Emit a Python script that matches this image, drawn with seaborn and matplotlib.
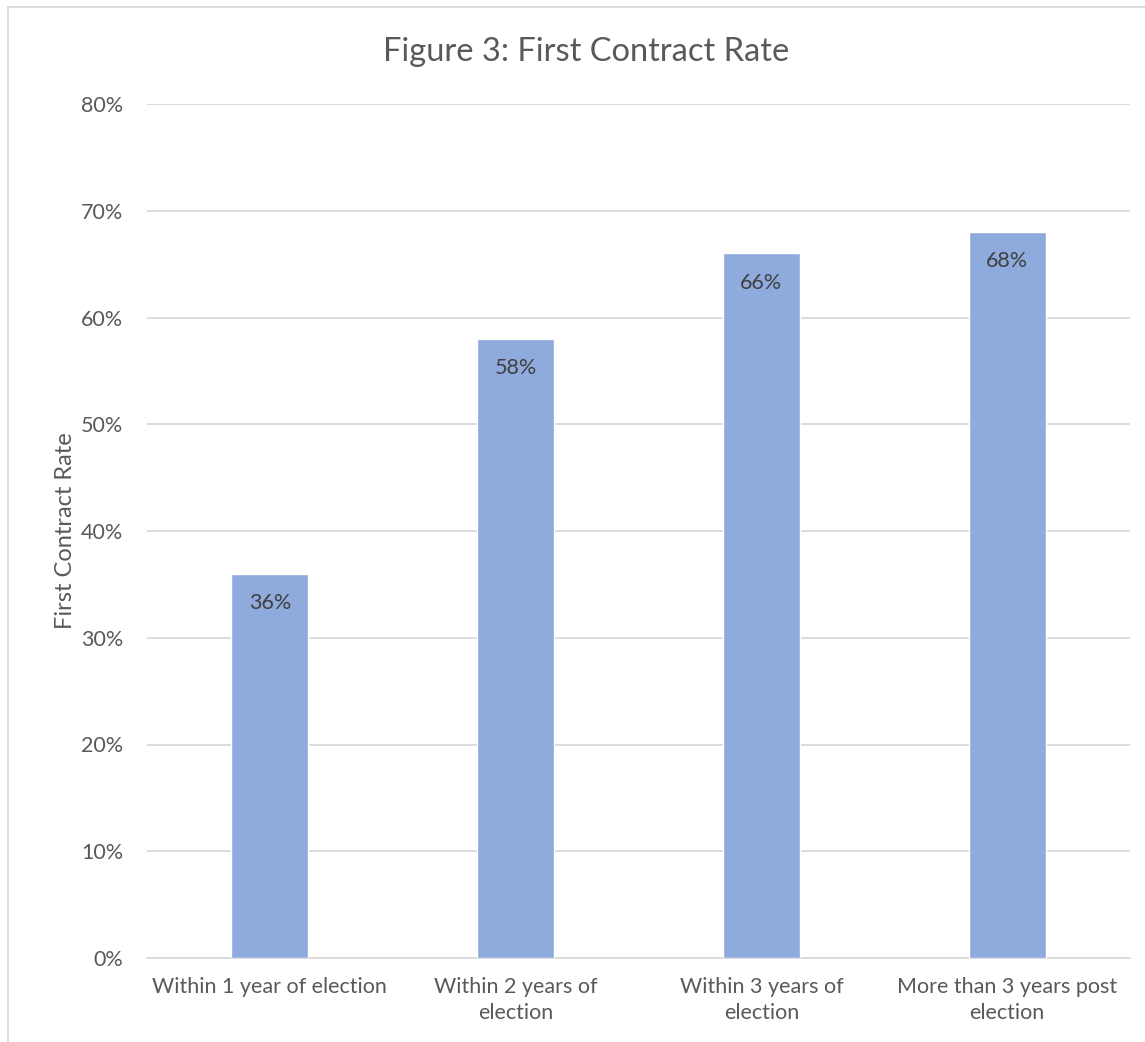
import matplotlib
matplotlib.use("Agg")
import matplotlib.pyplot as plt
import seaborn as sns
import pandas as pd
from matplotlib.lines import Line2D
from matplotlib.ticker import FuncFormatter

categories = ["Within 1 year of election", "Within 2 years of\nelection",
              "Within 3 years of\nelection", "More than 3 years post\nelection"]
rates = [36, 58, 66, 68]
yticks = [0, 10, 20, 30, 40, 50, 60, 70, 80]

sns.set_theme(style="white")
plt.rcParams['font.family'] = ['Lato', 'DejaVu Sans']

W, H = 1145, 1042
fig = plt.figure(figsize=(W / 100, H / 100), dpi=100)
ax = fig.add_axes([147 / W, 1 - 958 / H, (1130 - 147) / W, (958 - 104) / H])

df = pd.DataFrame({"cat": categories, "rate": rates})
sns.barplot(data=df, x="cat", y="rate", color="#8FAADC", saturation=1,
            width=0.313, ax=ax, zorder=3)

ax.set_ylim(0, 80)
ax.set_xlim(-0.5, 3.5)
ax.set_yticks(yticks)
ax.yaxis.set_major_formatter(FuncFormatter(lambda v, p: f"{int(v)}%"))
ax.grid(axis="y", color="#D9D9D9", linewidth=1.3, zorder=0)
for s in ["top", "right", "left"]:
    ax.spines[s].set_visible(False)
ax.spines["bottom"].set_color("#D9D9D9")
ax.spines["bottom"].set_linewidth(1.3)
ax.tick_params(axis="both", length=0, labelsize=15.5, colors="#595959")
ax.tick_params(axis="y", pad=17)
ax.tick_params(axis="x", pad=14)
for lbl in ax.get_xticklabels():
    lbl.set_linespacing(1.35)
ax.set_xlabel("")
ax.set_ylabel("First Contract Rate", fontsize=17, color="#595959", labelpad=4)

for i, v in enumerate(rates):
    ax.annotate(f"{v}%", (i, v), xytext=(0, -21), textcoords="offset points",
                ha="center", va="center", fontsize=15.5, color="#404040", zorder=5)

fig.text(586 / W, 1 - 52 / H, "Figure 3: First Contract Rate", ha="center",
         va="center", fontsize=23.5, color="#595959")

fig.add_artist(Line2D([8 / W, 8 / W], [0, 1 - 7 / H], transform=fig.transFigure,
                      color="#D9D9D9", linewidth=1.3))
fig.add_artist(Line2D([8 / W, 1], [1 - 7 / H, 1 - 7 / H], transform=fig.transFigure,
                      color="#D9D9D9", linewidth=1.3))

fig.savefig("out.png", dpi=100, facecolor="white")
